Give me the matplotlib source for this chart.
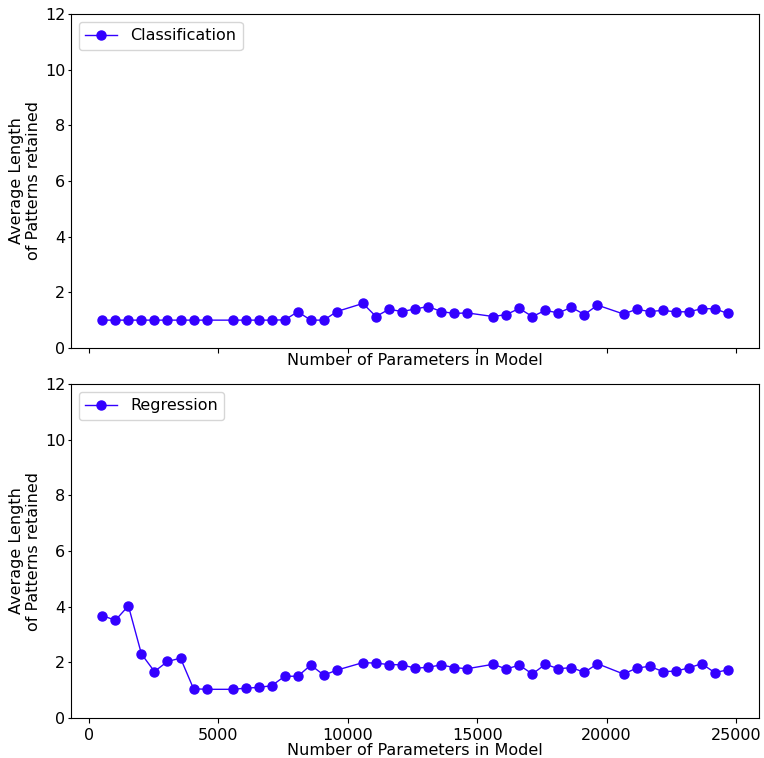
import matplotlib
matplotlib.use("Agg")
import matplotlib.pyplot as plt

# Parameter counts of the evaluated models
params = [513, 1017, 1520, 2024, 2527, 3031, 3534, 4038, 4541,
          5548, 6052, 6555, 7059, 7562, 8066, 8569, 9073, 9576,
          10583, 11087, 11590, 12094, 12597, 13101, 13604, 14108, 14611,
          15618, 16122, 16625, 17129, 17632, 18136, 18639, 19143, 19646,
          20653, 21157, 21660, 22164, 22667, 23171, 23674, 24178, 24681]

classification = [1.0, 1.0, 1.0, 1.0, 1.0, 1.0, 1.0, 1.0, 1.0,
                  1.0, 1.0, 1.0, 1.0, 1.01, 1.30, 1.0, 1.0, 1.31,
                  1.60, 1.13, 1.39, 1.31, 1.40, 1.49, 1.31, 1.24, 1.26,
                  1.13, 1.20, 1.42, 1.13, 1.35, 1.26, 1.46, 1.20, 1.54,
                  1.22, 1.39, 1.31, 1.35, 1.30, 1.30, 1.41, 1.41, 1.24]

regression = [3.68, 3.51, 4.03, 2.30, 1.67, 2.03, 2.15, 1.05, 1.03,
              1.03, 1.07, 1.10, 1.16, 1.50, 1.50, 1.90, 1.54, 1.72,
              1.99, 1.97, 1.92, 1.91, 1.79, 1.82, 1.91, 1.81, 1.77,
              1.93, 1.76, 1.90, 1.58, 1.93, 1.77, 1.81, 1.64, 1.95,
              1.58, 1.79, 1.86, 1.67, 1.68, 1.80, 1.95, 1.63, 1.73]

series = [("Classification", classification), ("Regression", regression)]

color = "#3300ff"
fs = 11.5

fig, axes = plt.subplots(2, 1, figsize=(7.64, 7.58), dpi=100, sharex=True)
fig.subplots_adjust(left=0.093, right=0.9935, top=0.9815, bottom=0.0528,
                    hspace=0.108)

for ax, (name, vals) in zip(axes, series):
    ax.plot(params, vals, color=color, marker="o", markersize=6.5,
            linewidth=1.0, label=name)
    ax.set_ylim(0, 12)
    ax.set_yticks([0, 2, 4, 6, 8, 10, 12])
    ax.set_ylabel("Average Length\nof Patterns retained", fontsize=fs,
                  labelpad=3)
    ax.set_xlabel("Number of Parameters in Model", fontsize=fs, labelpad=0)
    ax.tick_params(labelsize=fs)
    ax.tick_params(axis="y", length=2.5, pad=1.5)
    ax.legend(loc="upper left", fontsize=fs)

axes[1].set_xticks([0, 5000, 10000, 15000, 20000, 25000])

fig.savefig("out.png", dpi=100)
